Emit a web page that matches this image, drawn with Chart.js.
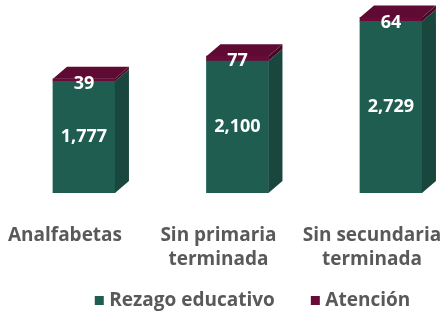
<!DOCTYPE html>
<html>
<head>
<meta charset="utf-8">
<script src="https://cdn.jsdelivr.net/npm/chart.js@4"></script>
<style>
  html, body { margin: 0; padding: 0; background: #ffffff; }
  #wrap { width: 445px; height: 323px; position: relative; }
</style>
</head>
<body>
<div id="wrap"><canvas id="chart"></canvas></div>
<script>
// Población por condición educativa (miles de personas)
const categories = [['Analfabetas'], ['Sin primaria', 'terminada'], ['Sin secundaria', 'terminada']];
const rezago = [1777, 2100, 2729];
const atencion = [39, 77, 64];
const seriesNames = ['Rezago educativo', 'Atención'];

// depth of the extruded boxes, in pixels
const DEPTH_X = 14;
const DEPTH_Y = 12;
const CHART_BOTTOM = 193;
const PAD_BOTTOM = 3;
// the legend is drawn this much higher than its layout slot, so the
// two-line axis labels keep enough room below the bars
const LEGEND_LIFT = 27;
const LEGEND_SHIFT_X = 32;
const LABEL_FONT = 'Open Sans';

const fmt = new Intl.NumberFormat('en-US');

// Draws the side and top faces of each stacked bar, then the value labels
const boxes3d = {
  id: 'boxes3d',
  beforeLayout(chart) {
    const lg = chart.legend;
    if (lg && !lg._liftWrapped) {
      const fit = lg.fit.bind(lg);
      lg.fit = function () {
        fit();
        this.height = Math.max(0, this.height - LEGEND_LIFT);
      };
      lg._liftWrapped = true;
    }
  },
  afterLayout(chart) {
    const lg = chart.legend;
    if (lg) {
      lg.top -= LEGEND_LIFT;
      lg.left += LEGEND_SHIFT_X;
      lg.right += LEGEND_SHIFT_X;
    }
  },
  afterDatasetsDraw(chart) {
    const ctx = chart.ctx;
    const sets = chart.data.datasets;
    const last = sets.length - 1;
    ctx.save();
    sets.forEach((ds, di) => {
      const meta = chart.getDatasetMeta(di);
      meta.data.forEach((bar) => {
        const p = bar.getProps(['x', 'y', 'base', 'width'], true);
        const l = p.x - p.width / 2, r = p.x + p.width / 2;
        const top = Math.min(p.y, p.base), bot = Math.max(p.y, p.base);
        ctx.fillStyle = ds.sideColor;
        ctx.beginPath();
        ctx.moveTo(r, bot);
        ctx.lineTo(r + DEPTH_X, bot - DEPTH_Y);
        ctx.lineTo(r + DEPTH_X, top - DEPTH_Y);
        ctx.lineTo(r, top);
        ctx.closePath();
        ctx.fill();
        if (di === last) {
          ctx.fillStyle = ds.topColor;
          ctx.beginPath();
          ctx.moveTo(l, top);
          ctx.lineTo(r, top);
          ctx.lineTo(r + DEPTH_X, top - DEPTH_Y);
          ctx.lineTo(l + DEPTH_X, top - DEPTH_Y);
          ctx.closePath();
          ctx.fill();
        }
      });
    });
    // value labels
    ctx.fillStyle = '#ffffff';
    ctx.font = 'bold 18px "' + LABEL_FONT + '"';
    ctx.textAlign = 'center';
    ctx.textBaseline = 'middle';
    sets.forEach((ds, di) => {
      const meta = chart.getDatasetMeta(di);
      meta.data.forEach((bar, i) => {
        const p = bar.getProps(['x', 'y', 'base'], true);
        const v = ds.data[i].y;
        const top = Math.min(p.y, p.base), bot = Math.max(p.y, p.base);
        const y = di === last ? top + 5 : (top + bot) / 2;
        ctx.fillText(fmt.format(v), p.x, y);
      });
    });
    ctx.restore();
  }
};

const chart = new Chart(document.getElementById('chart'), {
  type: 'bar',
  data: {
    datasets: [
      {
        label: seriesNames[0],
        data: rezago.map((v, i) => ({ x: i, y: v })),
        backgroundColor: '#1f5d50',
        sideColor: '#19463d',
        topColor: '#1a4a3f',
        borderWidth: 0,
        barThickness: 62
      },
      {
        label: seriesNames[1],
        data: atencion.map((v, i) => ({ x: i, y: v })),
        backgroundColor: '#6a0a38',
        sideColor: '#480826',
        topColor: '#5e0a33',
        borderWidth: 0,
        barThickness: 62
      }
    ]
  },
  options: {
    responsive: true,
    maintainAspectRatio: false,
    animation: false,
    layout: { padding: { left: 0, right: 0, top: 0, bottom: PAD_BOTTOM } },
    scales: {
      x: {
        type: 'linear',
        stacked: true,
        offset: false,
        min: -0.547,
        max: 2.352,
        grid: { display: false, drawTicks: false },
        border: { display: false },
        afterBuildTicks(axis) {
          axis.ticks = categories.map((_, i) => ({ value: i }));
        },
        afterFit(scale) {
          const lg = scale.chart.legend;
          const lgH = lg ? lg.height : 0;
          scale.height = 323 - CHART_BOTTOM - lgH - PAD_BOTTOM;
          scale.paddingLeft = 0;
          scale.paddingRight = 0;
        },
        ticks: {
          autoSkip: false,
          maxRotation: 0,
          padding: 30,
          labelOffset: -19,
          color: '#595959',
          font: { family: LABEL_FONT, size: 19, weight: 'bold', lineHeight: 1.3 },
          callback: (v) => categories[v]
        }
      },
      y: {
        stacked: true,
        display: false,
        min: 0,
        max: 3070
      }
    },
    plugins: {
      legend: {
        position: 'bottom',
        labels: {
          color: '#595959',
          usePointStyle: true,
          pointStyle: 'rect',
          boxWidth: 1,
          boxHeight: 9,
          padding: 40,
          font: { family: LABEL_FONT, size: 19, weight: 'bold' }
        }
      },
      tooltip: { enabled: false }
    }
  },
  plugins: [boxes3d]
});
</script>
</body>
</html>
